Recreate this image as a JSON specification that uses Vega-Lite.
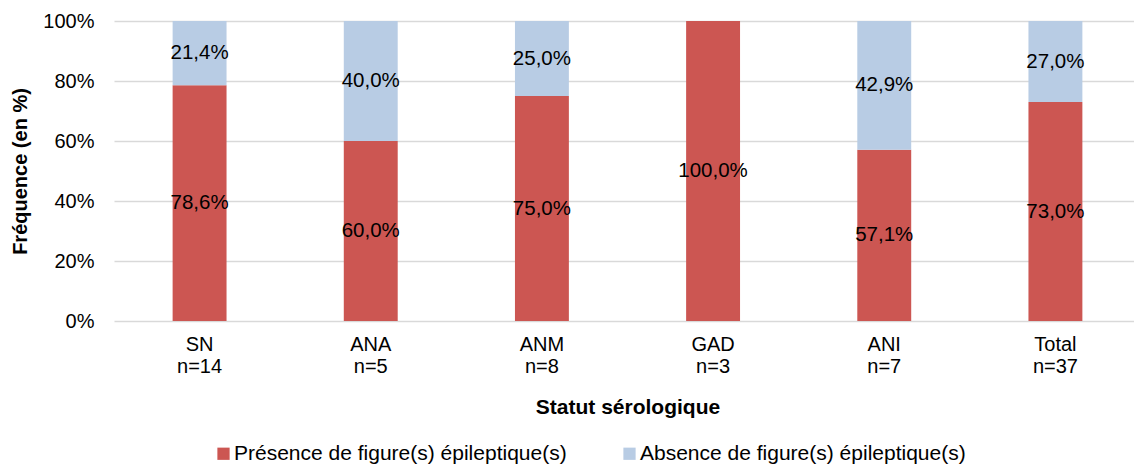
{
  "$schema": "https://vega.github.io/schema/vega-lite/v6.json",
  "autosize": "none",
  "padding": {"left": 114, "top": 21, "right": 0, "bottom": 146},
  "width": 1027,
  "height": 300,
  "config": {
    "font": "Liberation Sans",
    "view": {"stroke": null},
    "locale": {"number": {"decimal": ",", "thousands": " ", "grouping": [3], "currency": ["", " €"]}},
    "axis": {"labelColor": "#000000", "titleColor": "#000000", "labelFont": "Liberation Sans", "titleFont": "Liberation Sans"}
  },
  "data": {
    "values": [
      {"statut": "SN n=14", "type": "Présence de figure(s) épileptique(s)", "value": 0.786},
      {"statut": "SN n=14", "type": "Absence de figure(s) épileptique(s)", "value": 0.214},
      {"statut": "ANA n=5", "type": "Présence de figure(s) épileptique(s)", "value": 0.6},
      {"statut": "ANA n=5", "type": "Absence de figure(s) épileptique(s)", "value": 0.4},
      {"statut": "ANM n=8", "type": "Présence de figure(s) épileptique(s)", "value": 0.75},
      {"statut": "ANM n=8", "type": "Absence de figure(s) épileptique(s)", "value": 0.25},
      {"statut": "GAD n=3", "type": "Présence de figure(s) épileptique(s)", "value": 1.0},
      {"statut": "ANI n=7", "type": "Présence de figure(s) épileptique(s)", "value": 0.571},
      {"statut": "ANI n=7", "type": "Absence de figure(s) épileptique(s)", "value": 0.429},
      {"statut": "Total n=37", "type": "Présence de figure(s) épileptique(s)", "value": 0.73},
      {"statut": "Total n=37", "type": "Absence de figure(s) épileptique(s)", "value": 0.27}
    ]
  },
  "layer": [
    {
      "mark": {"type": "bar"},
      "encoding": {
        "x": {
          "field": "statut", "type": "nominal",
          "sort": ["SN n=14", "ANA n=5", "ANM n=8", "GAD n=3", "ANI n=7", "Total n=37"],
          "scale": {"paddingInner": 0.685, "paddingOuter": 0.3425},
          "axis": {
            "title": "Statut sérologique", "labelAngle": 0, "domain": false, "ticks": false,
            "labelExpr": "split(datum.label, ' ')", "labelFontSize": 20, "labelLineHeight": 22,
            "labelPadding": 13, "titleFontSize": 21, "titleFontWeight": "bold", "titlePadding": 20
          }
        },
        "y": {
          "field": "value", "type": "quantitative", "stack": "zero",
          "scale": {"domain": [0, 1]},
          "axis": {
            "title": "Fréquence (en %)", "format": ".0%", "values": [0, 0.2, 0.4, 0.6, 0.8, 1.0],
            "domain": false, "ticks": false, "labelPadding": 20, "labelFontSize": 20,
            "gridColor": "#D9D9D9", "gridWidth": 1.5, "titleFontSize": 20, "titleFontWeight": "bold", "titlePadding": 12
          }
        },
        "color": {
          "field": "type", "type": "nominal",
          "scale": {"domain": ["Présence de figure(s) épileptique(s)", "Absence de figure(s) épileptique(s)"], "range": ["#CC5652", "#B8CCE4"]},
          "legend": {
            "title": null, "orient": "none", "direction": "horizontal", "legendX": 99, "legendY": 422,
            "symbolType": "square", "symbolSize": 150, "symbolStrokeWidth": 0, "labelFontSize": 21,
            "labelFont": "Liberation Sans", "labelColor": "#000000", "labelOffset": 0, "columnPadding": 52, "padding": 0, "labelLimit": 500
          }
        },
        "order": {"field": "type", "sort": "descending"}
      }
    },
    {
      "transform": [
        {"stack": "value", "groupby": ["statut"], "sort": [{"field": "type", "order": "descending"}], "as": ["y0", "y1"]},
        {"fold": ["y0", "y1"], "as": ["k", "v"]},
        {"aggregate": [{"op": "mean", "field": "v", "as": "mid"}], "groupby": ["statut", "type", "value"]}
      ],
      "mark": {"type": "text", "fontSize": 20.5, "color": "#000000", "font": "Liberation Sans"},
      "encoding": {
        "x": {"field": "statut", "type": "nominal", "sort": ["SN n=14", "ANA n=5", "ANM n=8", "GAD n=3", "ANI n=7", "Total n=37"]},
        "y": {"field": "mid", "type": "quantitative"},
        "text": {"field": "value", "type": "quantitative", "format": ".1%"}
      }
    }
  ]
}
